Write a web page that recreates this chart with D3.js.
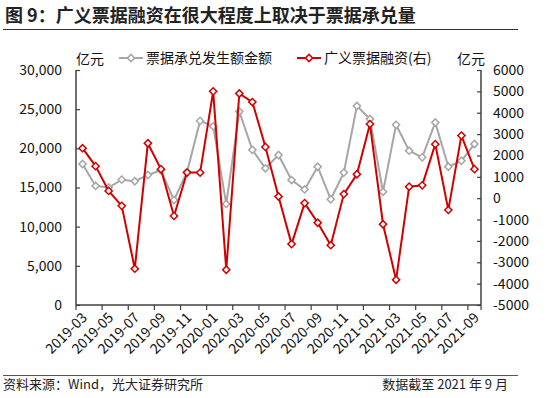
<!--
票据承兑 vs 广义票据融资 双轴折线图
-->
<body style="margin:0;background:#fff">
<script src="https://cdn.jsdelivr.net/npm/d3@7/dist/d3.min.js"></script>
<script>
var months = ["2019-03","2019-04","2019-05","2019-06","2019-07","2019-08","2019-09","2019-10","2019-11","2019-12",
  "2020-01","2020-02","2020-03","2020-04","2020-05","2020-06","2020-07","2020-08","2020-09","2020-10",
  "2020-11","2020-12","2021-01","2021-02","2021-03","2021-04","2021-05","2021-06","2021-07","2021-08","2021-09"];
// 票据承兑发生额金额 (左轴, 亿元)
var acceptance = [18000,15200,15000,16000,15800,16600,17200,13400,17000,23500,
  22800,12900,24700,19800,17450,19150,15950,14750,17650,13500,
  16900,25400,23750,14450,23000,19700,18850,23300,17650,18400,20550];
// 广义票据融资 (右轴, 亿元)
var financing = [2340,1500,340,-360,-3300,2570,1360,-830,1200,1200,
  5000,-3350,4900,4500,2400,80,-2150,-230,-1150,-2200,
  190,1120,3470,-1220,-3820,540,600,2530,-550,2930,1360];
var leftTicks = [0,5000,10000,15000,20000,25000,30000];
var rightTicks = [-5000,-4000,-3000,-2000,-1000,0,1000,2000,3000,4000,5000,6000];
var labelMonths = months.filter((d, i) => i % 2 == 0);

var W = 550, H = 398;
var margin = {top: 70, right: 69, bottom: 93, left: 76};
var width = W - margin.left - margin.right,
    height = H - margin.top - margin.bottom;
var font = "'Noto Sans CJK SC', 'Noto Sans', sans-serif";
var axisColor = "#404040", grayColor = "#a6a6a6", redColor = "#d00000";

var svg = d3.select("body").append("svg")
  .attr("width", W).attr("height", H)
  .style("font-family", font);

// title + rules
svg.append("text").attr("x", 5).attr("y", 22)
  .style("font-size", "18px").style("font-weight", "bold").attr("fill", "#222")
  .text("图 9：广义票据融资在很大程度上取决于票据承兑量");
svg.append("line").attr("x1", 3).attr("x2", 518).attr("y1", 29.5).attr("y2", 29.5)
  .attr("stroke", "#333").attr("stroke-width", 1.2);
svg.append("line").attr("x1", 3).attr("x2", 518).attr("y1", 375.5).attr("y2", 375.5)
  .attr("stroke", "#555").attr("stroke-width", 1.2);
svg.append("text").attr("x", 3).attr("y", 389)
  .style("font-size", "13px").attr("fill", "#222")
  .text("资料来源：Wind，光大证券研究所");
svg.append("text").attr("x", 508).attr("y", 389).attr("text-anchor", "end")
  .style("font-size", "13px").attr("fill", "#222")
  .text("数据截至 2021 年 9 月");

var g = svg.append("g").attr("transform", "translate(" + margin.left + "," + margin.top + ")");

var x = d3.scaleBand().domain(months).range([0, width]).padding(0);
var yL = d3.scaleLinear().domain([0, 30000]).range([height, 0]);
var yR = d3.scaleLinear().domain([-5000, 6000]).range([height, 0]);
var cx = d => x(d) + x.bandwidth() / 2;

// left axis
var axL = g.append("g").call(d3.axisLeft(yL).tickValues(leftTicks).tickSize(-4).tickPadding(14)
  .tickFormat(d3.format(",")));
// right axis
var axR = g.append("g").attr("transform", "translate(" + width + ",0)")
  .call(d3.axisRight(yR).tickValues(rightTicks).tickSize(-4).tickPadding(12).tickFormat(d => d));
// bottom axis: ticks on category boundaries, labels on category centers
var axB = g.append("g").attr("transform", "translate(0," + height + ")")
  .call(d3.axisBottom(x).tickValues(labelMonths).tickSize(0).tickPadding(0));
axB.selectAll(".tick text")
  .attr("text-anchor", "end")
  .attr("transform", "translate(2,10) rotate(-45)")
  .attr("dy", "0.35em");
axB.selectAll(".bnd").data(labelMonths.concat([null])).enter().append("line")
  .attr("class", "bnd")
  .attr("x1", d => d ? x(d) : width).attr("x2", d => d ? x(d) : width)
  .attr("y1", 0).attr("y2", 5)
  .attr("stroke", axisColor).attr("stroke-width", 1.2);

[axL, axR, axB].forEach(a => {
  a.select(".domain").attr("stroke", axisColor).attr("stroke-width", 1.5);
  a.selectAll(".tick line").attr("stroke", axisColor).attr("stroke-width", 1.2);
  a.selectAll(".tick text").attr("fill", "#111").style("font-size", "14px").style("font-family", font);
});
axL.select(".domain").attr("d", "M0," + height + "V0");
axR.select(".domain").attr("d", "M0," + height + "V0");
axB.select(".domain").attr("d", "M0,0H" + width);

// unit labels
g.append("text").attr("x", 0).attr("y", -6).style("font-size", "14px").attr("fill", "#111").text("亿元");
g.append("text").attr("x", width + 4).attr("y", -6).attr("text-anchor", "end")
  .style("font-size", "14px").attr("fill", "#111").text("亿元");

var diamond = d3.symbol().type(d3.symbolSquare).size(26);

function drawSeries(vals, y, color) {
  var line = d3.line().x((d, i) => cx(months[i])).y(d => y(d));
  g.append("path").datum(vals).attr("d", line)
    .attr("fill", "none").attr("stroke", color).attr("stroke-width", 2);
  g.selectAll(null).data(vals).enter().append("path")
    .attr("d", diamond)
    .attr("transform", (d, i) => "translate(" + cx(months[i]) + "," + y(d) + ") rotate(45)")
    .attr("fill", "#fff").attr("stroke", color).attr("stroke-width", 1.5);
}
drawSeries(acceptance, yL, grayColor);
drawSeries(financing, yR, redColor);

// legend
var legend = [
  {name: "票据承兑发生额金额", color: grayColor, x: 119},
  {name: "广义票据融资(右)", color: redColor, x: 297}
];
legend.forEach(l => {
  var lg = svg.append("g").attr("transform", "translate(" + l.x + ",58)");
  lg.append("line").attr("x1", 0).attr("x2", 24).attr("stroke", l.color).attr("stroke-width", 2);
  lg.append("path").attr("d", diamond).attr("transform", "translate(12,0) rotate(45)")
    .attr("fill", "#fff").attr("stroke", l.color).attr("stroke-width", 1.5);
  lg.append("text").attr("x", 27).attr("y", 5).style("font-size", "14px").attr("fill", "#111").text(l.name);
});
</script>
</body>
